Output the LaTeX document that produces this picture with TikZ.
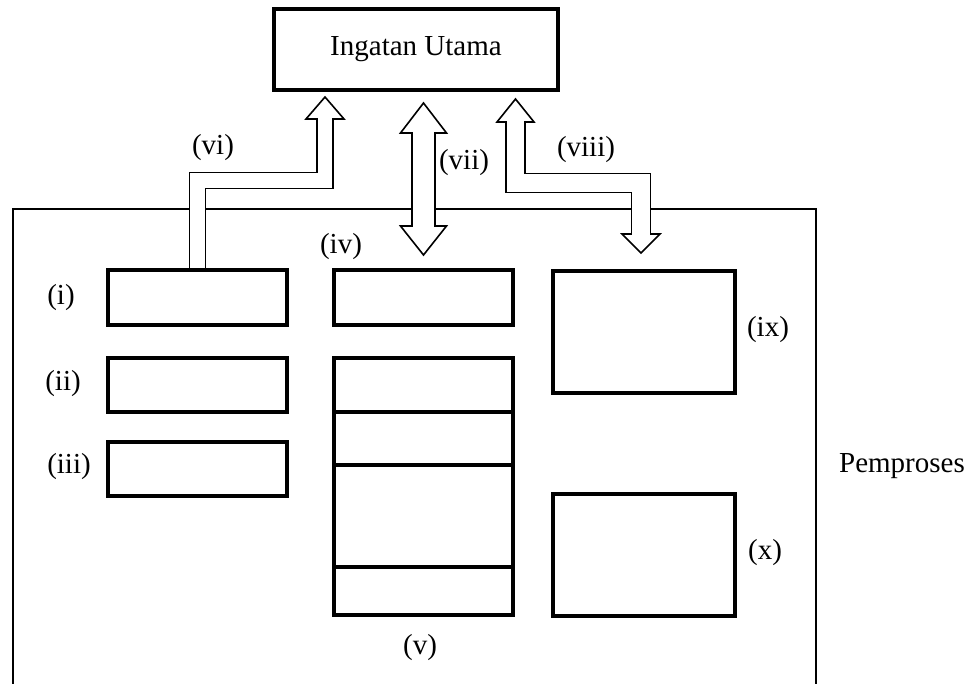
\documentclass[tikz,border=0pt]{standalone}
\usepackage{fontspec}
\setmainfont{Liberation Serif}
\usetikzlibrary{positioning, calc, backgrounds}
\tikzstyle{kotak} = [
  rectangle,
  draw=black,
  line width=1.6pt,
  outer sep=0pt,
  inner sep=0pt,
  minimum width=89.5pt,
  minimum height=27.5pt
]
\tikzstyle{teks} = [
  inner sep=0pt,
  text centered
]
\tikzstyle{panah} = [
  draw=black,
  line width=0.8pt,
  double=white,
]
\tikzset{
  pics/kepala/.style 2 args={
    code={\draw[line width=0.8pt, fill=white] (0,0) -- (#1,#2) -- (-#1,#2) -- cycle;}
  }
}

\begin{document}
\begin{tikzpicture}[x=0.5pt, y=-0.5pt, font=\fontsize{14.5}{17}\selectfont]
    \useasboundingbox (0,0) rectangle (975,684);

    \node[kotak, minimum width=142pt, minimum height=40.5pt] (ingatan) at (416,49.5) {Ingatan Utama};
    \node[kotak] (i) at (197.5,297.5) {};
    \node[kotak, minimum height=27pt] (ii) at (197.5,385) {};
    \node[kotak, minimum height=27pt] (iii) at (197.5,469) {};
    \node[kotak] (iv) at (423.5,297.5) {};
    \node[kotak, minimum height=27pt] (v1) at (423.5,385) {};
    \node[kotak, minimum height=26.5pt, below=0pt of v1] (v2) {};
    \node[kotak, minimum height=51pt, below=0pt of v2] (v3) {};
    \node[kotak, minimum height=24pt, below=0pt of v3] (v4) {};
    \node[kotak, minimum width=91pt, minimum height=61pt] (ix) at (644,332) {};
    \node[kotak, minimum width=91pt, minimum height=61pt] (x) at (644,555) {};

    \node[teks] (lbl-i) at (61,298) {(i)};
    \node[teks] (lbl-ii) at (63,384) {(ii)};
    \node[teks] (lbl-iii) at (69,467) {(iii)};
    \node[teks] (lbl-iv) at (341,247) {(iv)};
    \node[teks] (lbl-v) at (420,648) {(v)};
    \node[teks] (lbl-vi) at (213,148) {(vi)};
    \node[teks] (lbl-vii) at (464,163) {(vii)};
    \node[teks] (lbl-viii) at (586,150) {(viii)};
    \node[teks] (lbl-ix) at (768,330) {(ix)};
    \node[teks] (lbl-x) at (765,553) {(x)};
    \node[teks] (pemproses) at (902,466) {Pemproses};

    \begin{pgfonlayer}{background}
      %% bingkai pemproses
      \draw[line width=1pt] (13,700) |- (816,209) -- (816,700);
      %% (vi)
      \coordinate (t6) at ($(ingatan.south)+(-91,7)$);
      \pic at (t6) {kepala={19}{22}};
      \draw[panah, double distance=7.2pt] (i.north) |- ($(t6)+(0,83.5)$) -- ($(t6)+(0,21)$);
      %% (vii)
      \coordinate (t7a) at ($(ingatan.south -| iv.north)+(0,13)$);
      \coordinate (t7b) at ($(iv.north)+(0,-15)$);
      \pic at (t7a) {kepala={23}{30}};
      \pic[rotate=180] at (t7b) {kepala={23}{29}};
      \draw[panah, double distance=10.7pt] ($(t7a)+(0,29)$) -- ($(t7b)+(0,-28)$);
      %% (viii)
      \coordinate (t8a) at ($(ingatan.south)+(99.5,9)$);
      \coordinate (t8b) at ($(ix.north)+(-3,-18)$);
      \pic at (t8a) {kepala={18.5}{23}};
      \pic[rotate=180] at (t8b) {kepala={19}{19}};
      \draw[panah, double distance=8.7pt] ($(t8a)+(0,22)$) |- ($(t8b)+(0,-70)$) -- ($(t8b)+(0,-18)$);
    \end{pgfonlayer}
\end{tikzpicture}
\end{document}
